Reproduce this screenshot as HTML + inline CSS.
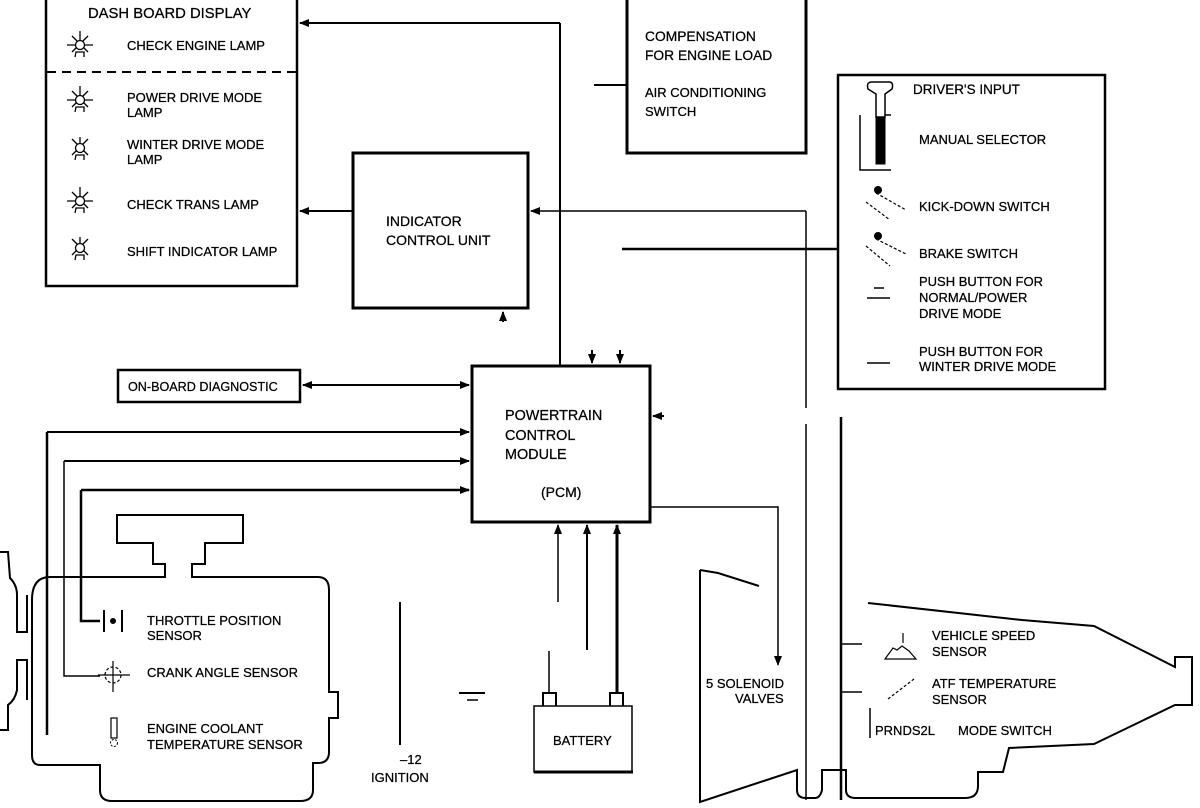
<!DOCTYPE html>
<html><head><meta charset="utf-8"><style>
html,body{margin:0;padding:0;background:#fff;width:1200px;height:808px;overflow:hidden}
svg{display:block}
text{font-family:"Liberation Sans",sans-serif;font-size:13px;fill:#000;stroke:#000;stroke-width:0.25}
</style></head><body>
<svg width="1200" height="808" viewBox="0 0 1200 808" xmlns="http://www.w3.org/2000/svg">
<defs>
<marker id="a" markerWidth="10" markerHeight="10" refX="9" refY="5" orient="auto-start-reverse" markerUnits="userSpaceOnUse"><path d="M0,1 L10,5 L0,9z" fill="#000"/></marker>
</defs>
<g fill="none" stroke="#000" stroke-width="2">
<rect x="46" y="-2" width="251" height="288" stroke-width="2.5"/>
<line x1="47" y1="72" x2="296" y2="72" stroke-dasharray="9,6"/>
<rect x="627" y="-3" width="179" height="156" stroke-width="3"/>
<line x1="594" y1="85" x2="627" y2="85"/>
<rect x="353" y="153" width="175" height="155" stroke-width="3"/>
<line x1="353" y1="211" x2="300" y2="211" marker-end="url(#a)"/>
<line x1="560" y1="365" x2="560" y2="23"/>
<line x1="560" y1="23" x2="300" y2="23" marker-end="url(#a)"/>
<line x1="806" y1="211" x2="531" y2="211" marker-end="url(#a)" stroke-width="1.5"/>
<line x1="806" y1="211" x2="806" y2="408" stroke-width="1.5"/>
<line x1="806" y1="424" x2="806" y2="800" stroke-width="1.5"/>
<line x1="622" y1="249" x2="838" y2="249" stroke-width="2.5"/>
<line x1="503" y1="322" x2="503" y2="312" marker-end="url(#a)"/>
<rect x="838" y="75" width="267" height="314" stroke-width="2.5"/>
<line x1="841" y1="417" x2="841" y2="800" stroke-width="2.5"/>
<line x1="841" y1="644" x2="862" y2="644" stroke-width="1.5"/>
<line x1="841" y1="692" x2="862" y2="692" stroke-width="1.5"/>
<rect x="118" y="370" width="182" height="32" stroke-width="2.5"/>
<line x1="303" y1="385" x2="469" y2="385" marker-start="url(#a)" marker-end="url(#a)" stroke-width="2"/>
<rect x="472" y="366" width="178" height="156" stroke-width="3"/>
<line x1="592" y1="350" x2="592" y2="363" marker-end="url(#a)"/>
<line x1="620" y1="350" x2="620" y2="363" marker-end="url(#a)"/>
<line x1="664" y1="416" x2="653" y2="416" marker-end="url(#a)"/>
<line x1="47" y1="432" x2="469" y2="432" marker-end="url(#a)"/>
<line x1="64" y1="461" x2="469" y2="461" marker-end="url(#a)"/>
<line x1="81" y1="490" x2="469" y2="490" marker-end="url(#a)" stroke-width="2.5"/>
<line x1="47" y1="432" x2="47" y2="735" stroke-width="2.5"/>
<polyline points="64,461 64,676 100,676" stroke-width="1.5"/>
<polyline points="81,490 81,621 100,621" stroke-width="2.5"/>
<polyline points="650,507 778,507 778,665" stroke-width="1.5" marker-end="url(#a)"/>
<line x1="558" y1="602" x2="558" y2="525" marker-end="url(#a)" stroke-width="1.5"/>
<line x1="587" y1="650" x2="587" y2="525" marker-end="url(#a)" stroke-width="2"/>
<line x1="617" y1="692" x2="617" y2="525" marker-end="url(#a)" stroke-width="3"/>
<line x1="549" y1="651" x2="549" y2="692" stroke-width="1.5"/>
<polyline points="543,706 543,693 556,693 556,706" stroke-width="2"/>
<polyline points="610,706 610,693 623,693 623,706" stroke-width="2"/>
<rect x="534" y="706" width="98" height="66" stroke-width="1.5"/>
<line x1="534" y1="772" x2="633" y2="772" stroke-width="3"/>
<line x1="459" y1="693" x2="485" y2="693"/>
<line x1="467" y1="700" x2="478" y2="700" stroke-width="1.5"/>
<line x1="400" y1="602" x2="400" y2="745" stroke-width="2"/>
<path d="M117,515 L243,515 L243,543 L205,543 L205,564 L192,564 L192,577 L318,577 Q329,577 329,590 L329,692 L338,692 L338,718 L329,718 L329,752 Q329,763 318,763 L313,763 L313,790 Q313,801 300,801 L112,801 Q100,801 100,790 L100,765 L40,765 Q32,765 32,755 L32,600 Q32,577 50,577 L165,577 L165,564 L153,564 L153,543 L117,543 Z" stroke-width="2"/>
<path d="M0,552 L8,552 L10,578 Q17,585 17,595 L17,632 L27,632 L27,595" stroke-width="2"/>
<path d="M0,730 L8,730 L8,705 Q15,700 17,690 L17,660 L27,660 L27,700" stroke-width="2"/>
<line x1="104" y1="610" x2="104" y2="632"/><line x1="122" y1="610" x2="122" y2="632"/>
<circle cx="113" cy="621" r="2" fill="#000"/>
<circle cx="113" cy="675" r="8" stroke-width="1.2" stroke-dasharray="3,2"/>
<line x1="98" y1="675" x2="130" y2="675" stroke-width="1.2"/><line x1="113" y1="661" x2="113" y2="692" stroke-width="1.2"/>
<rect x="111" y="718" width="6" height="20" stroke-width="1.2"/>
<circle cx="114" cy="743" r="3.5" stroke-width="1" stroke-dasharray="2,1.5"/>
<path d="M700,570 L718,573 L759,586" stroke-width="2"/>
<path d="M700,570 L700,802 L797,770 L797,790 Q797,798 806,798 L815,798 Q820,798 822,790 L822,770 L846,770 L846,790 Q846,798 856,798 L965,798 Q978,798 978,786 L978,772 L1003,772 L1009,748 L1094,744 L1175,705 L1192,705 L1192,657 L1175,657 L1175,667 L1094,626 L1022,620 L868,603" stroke-width="2"/>
<line x1="870" y1="708" x2="870" y2="738" stroke-width="1.5"/>
<path d="M885,659 L893,648 L897,650 L902,646 L909,651 L916,659 Z" stroke-width="1.2"/>
<line x1="903" y1="633" x2="903" y2="643" stroke-width="1.2"/>
<line x1="888" y1="699" x2="914" y2="679" stroke-width="1.2" stroke-dasharray="3,2"/>
<path d="M868,89 Q866,82 872,82 L889,82 Q894,82 892,89 L885,94 L885,117 L876,117 L876,94 Z" stroke-width="1.5"/>
<polyline points="860,115 860,170 891,170" stroke-width="1.5"/>
<line x1="885" y1="115" x2="891" y2="115" stroke-width="1.5"/>
<rect x="876" y="117" width="9" height="47" fill="#000" stroke-width="1"/>
<line x1="866" y1="202" x2="890" y2="220" stroke-width="1.2" stroke-dasharray="3,2"/>
<line x1="876" y1="193" x2="906" y2="210" stroke-width="1.2" stroke-dasharray="3,2"/>
<line x1="866" y1="246" x2="890" y2="266" stroke-width="1.2" stroke-dasharray="3,2"/>
<line x1="876" y1="239" x2="906" y2="254" stroke-width="1.2" stroke-dasharray="3,2"/>
<line x1="874" y1="288" x2="884" y2="288" stroke-width="1.5"/>
<line x1="867" y1="298" x2="890" y2="298" stroke-width="1.5"/>
<line x1="867" y1="363" x2="890" y2="363" stroke-width="1.5"/>
</g>
<circle cx="878" cy="190" r="4" fill="#000"/>
<circle cx="878" cy="236" r="4" fill="#000"/>
<g stroke="#000" stroke-width="1.3" fill="none">
<g transform="translate(80,45)"><line x1="-13" y1="0" x2="13" y2="0"/><line x1="0" y1="-14" x2="0" y2="-5"/><line x1="-8" y1="-9" x2="8" y2="7"/><line x1="8" y1="-9" x2="-8" y2="7"/><circle r="4.5" fill="#fff"/><polyline points="-5,12 -4,7 4,7 4,12"/></g>
<g transform="translate(80,100)"><line x1="-13" y1="0" x2="13" y2="0"/><line x1="0" y1="-14" x2="0" y2="-5"/><line x1="-8" y1="-9" x2="8" y2="7"/><line x1="8" y1="-9" x2="-8" y2="7"/><circle r="4.5" fill="#fff"/><polyline points="-5,12 -4,7 4,7 4,12"/></g>
<g transform="translate(80,148)"><line x1="0" y1="-11" x2="0" y2="-5"/><line x1="-8" y1="-9" x2="8" y2="7"/><line x1="8" y1="-9" x2="-8" y2="7"/><circle r="4.5" fill="#fff"/><polyline points="-5,12 -4,7 4,7 4,12"/></g>
<g transform="translate(80,201)"><line x1="-13" y1="0" x2="13" y2="0"/><line x1="0" y1="-14" x2="0" y2="-5"/><line x1="-8" y1="-9" x2="8" y2="7"/><line x1="8" y1="-9" x2="-8" y2="7"/><circle r="4.5" fill="#fff"/><polyline points="-5,12 -4,7 4,7 4,12"/></g>
<g transform="translate(80,248)"><line x1="0" y1="-11" x2="0" y2="-5"/><line x1="-8" y1="-9" x2="8" y2="7"/><line x1="8" y1="-9" x2="-8" y2="7"/><circle r="4.5" fill="#fff"/><polyline points="-5,12 -4,7 4,7 4,12"/></g>
</g>
<text x="88" y="18" style="font-size:14.8px">DASH BOARD DISPLAY</text>
<text x="127" y="50">CHECK ENGINE LAMP</text>
<text x="127" y="102">POWER DRIVE MODE</text>
<text x="127" y="117">LAMP</text>
<text x="127" y="149">WINTER DRIVE MODE</text>
<text x="127" y="164">LAMP</text>
<text x="127" y="209">CHECK TRANS LAMP</text>
<text x="127" y="256">SHIFT INDICATOR LAMP</text>
<text x="645" y="41" style="font-size:13.8px">COMPENSATION</text>
<text x="645" y="60" style="font-size:13.8px">FOR ENGINE LOAD</text>
<text x="645" y="97">AIR CONDITIONING</text>
<text x="645" y="116">SWITCH</text>
<text x="386" y="226" style="font-size:14px">INDICATOR</text>
<text x="386" y="245" style="font-size:14px">CONTROL UNIT</text>
<text x="913" y="94" style="font-size:13.5px">DRIVER'S INPUT</text>
<text x="919" y="144">MANUAL SELECTOR</text>
<text x="919" y="211">KICK-DOWN SWITCH</text>
<text x="919" y="258">BRAKE SWITCH</text>
<text x="919" y="286">PUSH BUTTON FOR</text>
<text x="919" y="302">NORMAL/POWER</text>
<text x="919" y="318">DRIVE MODE</text>
<text x="919" y="356">PUSH BUTTON FOR</text>
<text x="919" y="371">WINTER DRIVE MODE</text>
<text x="128" y="391" style="font-size:12.6px">ON-BOARD DIAGNOSTIC</text>
<text x="505" y="420" style="font-size:14.4px">POWERTRAIN</text>
<text x="505" y="440" style="font-size:14.4px">CONTROL</text>
<text x="505" y="459" style="font-size:14.4px">MODULE</text>
<text x="541" y="497" style="font-size:14px">(PCM)</text>
<text x="147" y="625">THROTTLE POSITION</text>
<text x="147" y="640">SENSOR</text>
<text x="147" y="677">CRANK ANGLE SENSOR</text>
<text x="147" y="733">ENGINE COOLANT</text>
<text x="147" y="749">TEMPERATURE SENSOR</text>
<text x="553" y="745">BATTERY</text>
<text x="400" y="764">–12</text>
<text x="371" y="782">IGNITION</text>
<text x="706" y="688">5 SOLENOID</text>
<text x="735" y="703">VALVES</text>
<text x="932" y="640">VEHICLE SPEED</text>
<text x="932" y="656">SENSOR</text>
<text x="932" y="688">ATF TEMPERATURE</text>
<text x="932" y="704">SENSOR</text>
<text x="875" y="735">PRNDS2L</text>
<text x="958" y="735">MODE SWITCH</text>
</svg>
</body></html>
